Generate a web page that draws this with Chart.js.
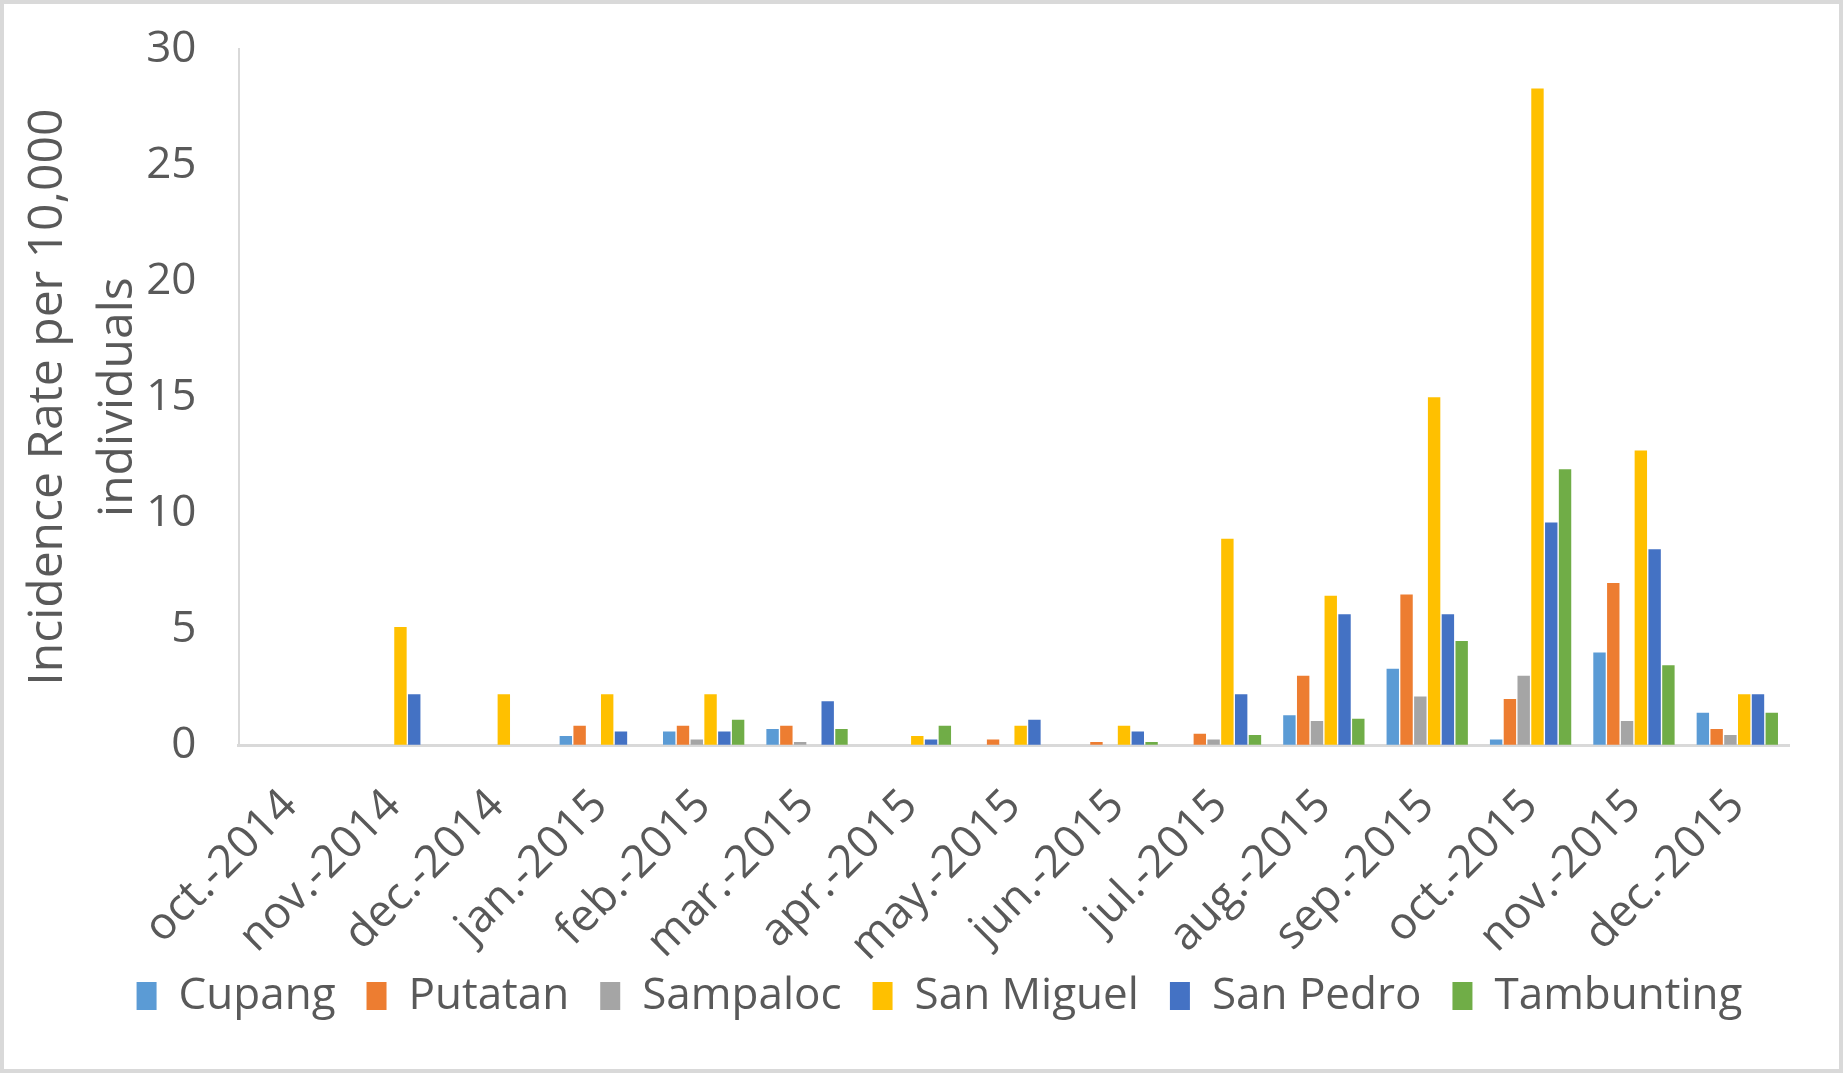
<!DOCTYPE html>
<html>
<head>
<meta charset="utf-8">
<script src="https://cdn.jsdelivr.net/npm/chart.js@4.4.0/dist/chart.umd.min.js"></script>
<style>
  html, body { margin: 0; padding: 0; background: #fff; }
  #wrap {
    width: 1843px; height: 1073px; box-sizing: border-box;
    border: 4px solid #d9d9d9; background: #fff; position: relative;
  }
</style>
</head>
<body>
<div id="wrap"><canvas id="myChart"></canvas></div>
<script>
let months = ["oct.-2014", "nov.-2014", "dec.-2014", "jan.-2015", "feb.-2015", "mar.-2015", "apr.-2015",
  "may.-2015", "jun.-2015", "jul.-2015", "aug.-2015", "sep.-2015", "oct.-2015", "nov.-2015", "dec.-2015"];

let cupang =     [0, 0, 0, 0.4, 0.6, 0.7, 0, 0, 0, 0, 1.3, 3.3, 0.25, 4.0, 1.4];
let putatan =    [0, 0, 0, 0.85, 0.85, 0.85, 0, 0.25, 0.15, 0.5, 3.0, 6.5, 2.0, 7.0, 0.7];
let sampaloc =   [0, 0, 0, 0, 0.25, 0.15, 0, 0, 0, 0.25, 1.05, 2.1, 3.0, 1.05, 0.45];
let sanMiguel =  [0, 5.1, 2.2, 2.2, 2.2, 0, 0.4, 0.85, 0.85, 8.9, 6.45, 15.0, 28.3, 12.7, 2.2];
let sanPedro =   [0, 2.2, 0, 0.6, 0.6, 1.9, 0.25, 1.1, 0.6, 2.2, 5.65, 5.65, 9.6, 8.45, 2.2];
let tambunting = [0, 0, 0, 0, 1.1, 0.7, 0.85, 0, 0.15, 0.45, 1.15, 4.5, 11.9, 3.45, 1.4];

let seriesNames = ["Cupang", "Putatan", "Sampaloc", "San Miguel", "San Pedro", "Tambunting"];
let seriesColors = ["#5B9BD5", "#ED7D31", "#A5A5A5", "#FFC000", "#4472C4", "#70AD47"];
let yTicks = [0, 5, 10, 15, 20, 25, 30];

let myChart;

// legend sits a bit right of centre and tucked up under the month labels
const legendShift = {
  id: "legendShift",
  afterLayout(chart) {
    chart.legend.left += 38;
    chart.legend.right += 38;
    chart.legend.top -= 63;
    chart.legend.bottom -= 63;
  },
};

function buildDatasets() {
  let values = [cupang, putatan, sampaloc, sanMiguel, sanPedro, tambunting];
  return seriesNames.map((name, i) => ({
    label: name,
    data: values[i],
    backgroundColor: seriesColors[i],
    borderWidth: 0,
    barPercentage: 0.9,
    categoryPercentage: 0.8,
  }));
}

function renderChart() {
  const ctx = document.getElementById("myChart");
  if (myChart) {
    myChart.destroy();
  }
  Chart.defaults.font.family = "'Open Sans', sans-serif";
  Chart.defaults.color = "#595959";

  myChart = new Chart(ctx, {
    type: "bar",
    data: {
      labels: months,
      datasets: buildDatasets(),
    },
    plugins: [legendShift],
    options: {
      responsive: true,
      maintainAspectRatio: false,
      animation: false,
      layout: { autoPadding: false, padding: { top: 45, right: 50, left: 10, bottom: -22 } },
      plugins: {
        tooltip: { enabled: false },
        legend: {
          position: "bottom",
          labels: {
            font: { size: 44 },
            color: "#595959",
            boxWidth: 20,
            boxHeight: 28,
            padding: 31,
          },
        },
      },
      scales: {
        x: {
          grid: { display: false, drawTicks: false },
          border: { color: "#d9d9d9", width: 3 },
          ticks: {
            font: { size: 45 },
            color: "#595959",
            maxRotation: 45,
            minRotation: 45,
            padding: 34,
          },
        },
        y: {
          min: 0,
          max: 30,
          afterBuildTicks: (axis) => {
            axis.ticks = yTicks.map((v) => ({ value: v }));
          },
          // invisible tick marks give the gap between numbers and axis
          grid: {
            drawOnChartArea: false,
            drawTicks: true,
            tickLength: 42,
            tickColor: "rgba(0,0,0,0)",
          },
          border: { color: "#d9d9d9", width: 2 },
          ticks: {
            font: { size: 44 },
            color: "#595959",
            padding: 0,
          },
          title: {
            display: true,
            text: ["Incidence Rate per 10,000", "individuals"],
            font: { size: 48, lineHeight: 1.45 },
            color: "#595959",
            padding: { top: 0, bottom: -7 },
          },
        },
      },
    },
  });
}

renderChart();
</script>
</body>
</html>
